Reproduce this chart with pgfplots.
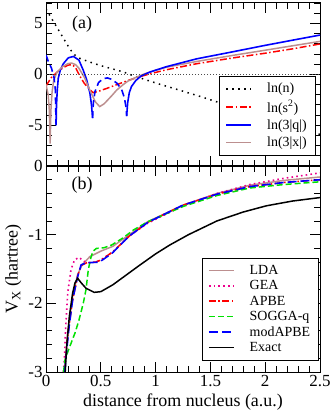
\documentclass[border=0pt]{standalone}
\usepackage{fontspec}
\setmainfont{Liberation Serif}
\usepackage{pgfplots}
\pgfplotsset{compat=1.18}
\definecolor{rosy}{RGB}{188,143,143}
\definecolor{lgreen}{RGB}{0,225,0}

\pgfplotsset{
  panel/.style={
    scale only axis, width=274bp,
    xmin=0, xmax=2.5,
    xtick={0,0.5,...,2.5}, minor xtick={0,0.1,...,2.5},
    tick align=inside, xtick pos=both, ytick pos=both,
    major tick length=10bp, minor tick length=6bp,
    every tick/.style={black, line width=0.8pt},
    axis line style={line width=1pt},
    tick label style={font=\fontsize{17}{19}\selectfont},
    /pgf/number format/assume math mode=true,
    label style={font=\fontsize{18}{20}\selectfont},
    legend style={font=\fontsize{14}{16}\selectfont, draw=black,
      fill=white, inner xsep=6bp, inner ysep=5bp, column sep=13bp},
    legend cell align=left,
    legend image code/.code={\draw[##1] (0bp,0bp) -- (25bp,0bp);},
  },
}

\begin{document}
\begin{tikzpicture}
% (b) exchange potentials
\begin{axis}[panel, at={(0,0)}, anchor=south west,
  height=206bp, ymin=-3, ymax=0,
  ytick={-3,-2,-1,0}, minor ytick={-3,-2.8,...,0},
  xlabel={distance from nucleus (a.u.)},
  ylabel={V\textsubscript{X}\ (hartree)},
  legend style={at={(0.994,0.058)}, anchor=south east, row sep=0.6bp},
]
\addplot[rosy, line width=1.5pt] coordinates {
  (0.165,-3) (0.2,-2.4) (0.243,-1.9) (0.289,-1.58) (0.33,-1.44) (0.4,-1.32)
  (0.5,-1.24) (0.61,-1.17) (0.76,-1.0) (0.93,-0.81) (1.25,-0.57) (1.56,-0.4)
  (1.86,-0.28) (2.17,-0.21) (2.5,-0.16)};
\addplot[magenta, line width=1.6pt, dash pattern=on 1.6pt off 3.2pt] coordinates {
  (0.158,-3) (0.167,-2.83) (0.18,-2.34) (0.198,-1.85) (0.228,-1.51) (0.26,-1.37)
  (0.3,-1.33) (0.34,-1.38) (0.37,-1.41) (0.45,-1.4) (0.5,-1.37) (0.61,-1.25)
  (0.76,-1.02) (0.93,-0.83) (1.25,-0.58) (1.56,-0.40) (1.86,-0.27) (2.17,-0.18)
  (2.5,-0.10)};
\addplot[red, line width=1.5pt, dash pattern=on 7pt off 2.5pt on 1.5pt off 2.5pt] coordinates {
  (0.168,-3) (0.2,-2.45) (0.243,-1.95) (0.289,-1.6) (0.32,-1.45) (0.37,-1.41)
  (0.45,-1.4) (0.5,-1.37) (0.61,-1.25) (0.76,-1.02) (0.93,-0.82) (1.25,-0.57)
  (1.56,-0.41) (1.86,-0.30) (2.17,-0.24) (2.5,-0.20)};
\addplot[lgreen, line width=1.5pt, dash pattern=on 6pt off 3pt] coordinates {
  (0.16,-3) (0.173,-2.83) (0.2,-2.7) (0.265,-2.43) (0.3,-2.25) (0.34,-2.0)
  (0.365,-1.8) (0.386,-1.51) (0.41,-1.33) (0.43,-1.24) (0.46,-1.2) (0.53,-1.19)
  (0.6,-1.15) (0.7,-1.05) (0.8,-0.93) (0.93,-0.81) (1.25,-0.59) (1.56,-0.43)
  (1.86,-0.32) (2.17,-0.27) (2.5,-0.23)};
\addplot[blue, line width=1.6pt, dash pattern=on 9pt off 4pt] coordinates {
  (0.172,-3) (0.18,-2.83) (0.21,-2.35) (0.243,-1.95) (0.289,-1.61) (0.32,-1.44)
  (0.365,-1.41) (0.486,-1.40) (0.55,-1.33) (0.61,-1.26) (0.76,-1.02) (0.93,-0.82)
  (1.25,-0.57) (1.56,-0.41) (1.86,-0.30) (2.17,-0.24) (2.5,-0.2)};
\addplot[black, line width=1.5pt] coordinates {
  (0.175,-3) (0.19,-2.6) (0.213,-2.19) (0.243,-1.85) (0.265,-1.7) (0.289,-1.635)
  (0.32,-1.7) (0.365,-1.78) (0.44,-1.84) (0.5,-1.83) (0.61,-1.73) (0.73,-1.59)
  (0.85,-1.45) (1.0,-1.28) (1.13,-1.15) (1.3,-1.0) (1.56,-0.8) (1.8,-0.67)
  (2.01,-0.58) (2.25,-0.51) (2.5,-0.46)};
\legend{LDA, GEA, APBE, SOGGA-q, modAPBE\hspace{19bp}, Exact}
\node[font=\fontsize{18}{20}\selectfont] at (axis cs:0.33,-0.28) {(b)};
\end{axis}

% (a) logarithms of density and reduced gradients
\begin{axis}[panel, at={(0,206bp)}, anchor=south west,
  height=163bp, ymin=-9, ymax=7,
  ytick={-5,0,5}, minor ytick={-9,...,7},
  xticklabels={},
  legend style={at={(0.982,0.067)}, anchor=south east, row sep=2bp},
]
\addplot[black, line width=1.5pt, dash pattern=on 1.5pt off 4.5pt] coordinates {
  (0,6.4) (0.05,5.5) (0.1,4.6) (0.15,3.7) (0.2,2.8) (0.25,2.0) (0.3,1.6)
  (0.4,1.2) (0.5,0.85) (0.6,0.55) (0.7,0.25) (0.8,-0.15) (0.9,-0.5) (1.0,-0.85)
  (1.2,-1.5) (1.4,-2.15) (1.6,-2.85) (1.8,-3.5) (2.0,-4.2) (2.5,-5.9)};
\addplot[red, line width=1.5pt, dash pattern=on 7pt off 2.5pt on 1.5pt off 2.5pt] coordinates {
  (0,-1.15) (0.02,-0.8) (0.05,-0.3) (0.1,0.2) (0.15,0.6) (0.2,0.9) (0.24,0.95)
  (0.27,0.65) (0.31,-0.2) (0.35,-0.9) (0.4,-1.5) (0.43,-1.8) (0.47,-1.7)
  (0.55,-1.4) (0.65,-1.0) (0.75,-0.6) (0.85,-0.25) (0.95,0.05) (1.1,0.45)
  (1.375,1.04) (1.7,1.6) (2.0,2.07) (2.25,2.5) (2.5,2.98)};
\addplot[blue, line width=1.6pt] coordinates {
  (0.092,-5) (0.096,-3) (0.103,-1.5) (0.112,-0.4) (0.13,0.4) (0.158,1.04)
  (0.204,1.62) (0.25,1.75) (0.3,1.4) (0.34,0.4) (0.37,-0.5) (0.4,-1.8)
  (0.415,-3.0) (0.425,-4.3)};
\addplot[rosy, line width=1.5pt] coordinates {
  (0,-1.0) (0.02,-2.0) (0.03,-3.5) (0.038,-6.8) (0.045,-3.5) (0.055,-1.8)
  (0.07,-0.6) (0.1,0.2) (0.15,0.75) (0.2,1.05) (0.234,1.1) (0.27,0.95) (0.3,0.6)
  (0.35,-0.3) (0.4,-1.55) (0.45,-2.7) (0.49,-3.17) (0.53,-2.9) (0.6,-2.1)
  (0.645,-1.55) (0.7,-1.05) (0.75,-0.65) (0.83,-0.26) (0.9,0.05) (1.0,0.4)
  (1.1,0.7) (1.375,1.26) (1.7,1.85) (1.98,2.33) (2.25,2.8) (2.5,3.23)};
\addplot[blue, line width=1.6pt, forget plot] coordinates {
  (0.736,-4.1) (0.745,-2.8) (0.76,-1.8) (0.78,-1.2) (0.82,-0.6) (0.87,-0.15)
  (0.95,0.23) (1.1,0.75) (1.375,1.52) (1.7,2.2) (1.98,2.8) (2.25,3.35) (2.5,3.85)};
\addplot[blue, line width=1.6pt, dash pattern=on 7pt off 4pt, forget plot] coordinates {
  (0,1.9) (0.02,1.3) (0.05,0.6) (0.073,-0.3) (0.085,-1.5) (0.092,-5)};
\addplot[blue, line width=1.6pt, dash pattern=on 7pt off 4pt, forget plot] coordinates {
  (0.425,-4.3) (0.432,-2.8) (0.447,-1.7) (0.48,-0.8) (0.52,-0.45) (0.56,-0.35)
  (0.6,-0.5) (0.65,-0.9) (0.69,-1.5) (0.715,-2.3) (0.73,-3.2) (0.736,-4.1)};
\addplot[black!70, line width=0.8pt, dash pattern=on 1pt off 2pt, forget plot]
  coordinates {(0,0) (2.5,0)};
\legend{ln(n)\rule[-4bp]{0pt}{4bp}, ln(s\textsuperscript{2}), ln(3|q|), ln(3|x|)}
\node[font=\fontsize{18}{20}\selectfont] at (axis cs:0.33,4.9) {(a)};
\end{axis}
\pgfresetboundingbox
\path[use as bounding box] (-46bp,-41bp) rectangle (286bp,372bp);
\end{tikzpicture}
\end{document}
